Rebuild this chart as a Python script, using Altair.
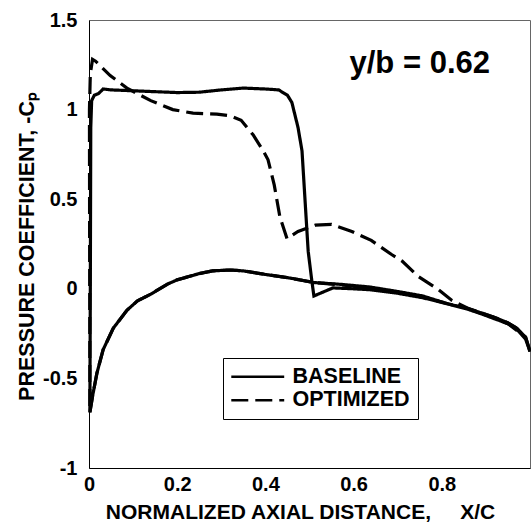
import altair as alt
import pandas as pd

# ---- data ----
base_x = [1.0, 0.99, 0.97, 0.95, 0.92, 0.89, 0.86, 0.815, 0.757, 0.7, 0.637, 0.57, 0.51, 0.456, 0.40, 0.35, 0.32, 0.28, 0.25, 0.2, 0.177, 0.14, 0.11, 0.086, 0.055, 0.032, 0.018, 0.008, 0.002,
          0.003, 0.004, 0.006, 0.012, 0.022, 0.032, 0.05, 0.1, 0.15, 0.2, 0.25, 0.3, 0.35, 0.4, 0.43, 0.45, 0.46, 0.474, 0.483, 0.49, 0.497, 0.505, 0.51, 0.553, 0.6, 0.637, 0.7, 0.757, 0.815, 0.86, 0.89, 0.95, 0.97, 0.99, 1.0]
base_y = [-0.35, -0.27, -0.22, -0.19, -0.16, -0.135, -0.11, -0.085, -0.04, -0.015, 0.01, 0.025, 0.035, 0.06, 0.08, 0.1, 0.105, 0.1, 0.085, 0.05, 0.025, -0.03, -0.067, -0.12, -0.22, -0.34, -0.47, -0.6, -0.69,
          0.0, 0.9, 1.05, 1.08, 1.09, 1.115, 1.11, 1.105, 1.1, 1.095, 1.097, 1.11, 1.12, 1.115, 1.11, 1.08, 1.04, 0.9, 0.77, 0.49, 0.21, 0.05, -0.04, 0.005, 0.0, -0.005, -0.025, -0.05, -0.085, -0.115, -0.14, -0.195, -0.225, -0.28, -0.35]

opt_x = [1.0, 0.99, 0.97, 0.95, 0.92, 0.89, 0.86, 0.815, 0.757, 0.7, 0.637, 0.57, 0.51, 0.456, 0.40, 0.35, 0.32, 0.28, 0.25, 0.2, 0.177, 0.14, 0.11, 0.086, 0.055, 0.032, 0.018, 0.008, 0.002,
         0.001, 0.003, 0.008, 0.015, 0.048, 0.086, 0.14, 0.19, 0.236, 0.29, 0.32, 0.345, 0.372, 0.395, 0.406, 0.42, 0.433, 0.449, 0.474, 0.513, 0.55, 0.596, 0.64, 0.687, 0.71, 0.746, 0.79, 0.823, 0.86, 0.9, 0.95, 0.99, 1.0]
opt_y = [-0.35, -0.27, -0.22, -0.19, -0.16, -0.135, -0.11, -0.085, -0.045, -0.02, 0.005, 0.022, 0.035, 0.06, 0.08, 0.1, 0.105, 0.1, 0.085, 0.05, 0.025, -0.03, -0.067, -0.12, -0.22, -0.34, -0.47, -0.6, -0.69,
         1.0, 1.2, 1.28, 1.27, 1.19, 1.12, 1.05, 1.0, 0.98, 0.975, 0.965, 0.94, 0.86, 0.77, 0.72, 0.58, 0.4, 0.28, 0.32, 0.355, 0.36, 0.32, 0.27, 0.19, 0.155, 0.07, 0.0, -0.065, -0.11, -0.145, -0.195, -0.27, -0.35]

series_names = ["BASELINE", "OPTIMIZED"]
x_ticks = [0, 0.2, 0.4, 0.6, 0.8]
y_ticks = [-1, -0.5, 0, 0.5, 1, 1.5]
ann_text = ["y/b = 0.62"]
ann_x = [0.75]
ann_y = [1.205]

rows = []
for name, xs, ys in [(series_names[0], base_x, base_y), (series_names[1], opt_x, opt_y)]:
    for i, (a, b) in enumerate(zip(xs, ys)):
        rows.append({"series": name, "x": a, "y": b, "i": i})
df = pd.DataFrame(rows)
ann = pd.DataFrame({"t": ann_text, "x": ann_x, "y": ann_y})

FONT = "Liberation Sans"

xscale = alt.Scale(domain=[0, 1], nice=False, zero=False)
yscale = alt.Scale(domain=[-1, 1.5], nice=False, zero=False)

lines = alt.Chart(df).mark_line(color="black", strokeWidth=3.2).encode(
    x=alt.X("x:Q", scale=xscale, axis=alt.Axis(
        values=x_ticks, title="NORMALIZED AXIAL DISTANCE,\u00a0\u00a0\u00a0\u00a0\u00a0X/C",
        labelExpr="'' + datum.value", grid=False, ticks=False, labelFlush=False,
        labelOverlap=False, labelPadding=6, labelFontSize=20, labelFont=FONT,
        labelFontWeight="bold", labelColor="black", domainColor="black",
        titleFont=FONT, titleFontSize=21, titleFontWeight="bold", titleColor="black",
        titleX=211, titleY=50, titleAlign="center", titleBaseline="alphabetic")),
    y=alt.Y("y:Q", scale=yscale, axis=alt.Axis(
        values=y_ticks, title="PRESSURE COEFFICIENT, -C\u209a",
        labelExpr="'' + datum.value", grid=False, ticks=False, labelFlush=False,
        labelOverlap=False, labelPadding=12, labelFontSize=20, labelFont=FONT,
        labelFontWeight="bold", labelColor="black", domainColor="black",
        titleFont=FONT, titleFontSize=21.5, titleFontWeight="bold", titleColor="black",
        titleX=-62, titleY=226, titleAngle=-90, titleAlign="center", titleBaseline="middle")),
    strokeDash=alt.StrokeDash("series:N", scale=alt.Scale(domain=series_names, range=[[1, 0], [17, 7]]),
                              legend=alt.Legend(
                                  title=None, orient="none", legendX=134, legendY=338,
                                  symbolType="M-5,0H5", symbolSize=112, symbolStrokeWidth=2.5,
                                  symbolStrokeColor="black", symbolOffset=16, labelOffset=24,
                                  labelFont=FONT, labelFontSize=21.5, labelFontWeight="bold",
                                  labelColor="black", padding=8, rowPadding=0.5,
                                  strokeColor="black", fillColor="white")),
    order="i:Q",
)

text = alt.Chart(ann).mark_text(font=FONT, fontSize=31, fontWeight="bold", color="black",
                                align="center", baseline="alphabetic").encode(
    x=alt.X("x:Q", scale=xscale), y=alt.Y("y:Q", scale=yscale), text="t:N")

chart = alt.layer(lines, text).properties(
    width=441, height=448,
    autosize=alt.AutoSizeParams(type="none"),
    padding={"left": 89, "top": 20, "right": 1, "bottom": 57},
).configure_view(stroke="#666", strokeWidth=1)

chart.save("out.html", embed_options={"renderer": "svg", "actions": False})
